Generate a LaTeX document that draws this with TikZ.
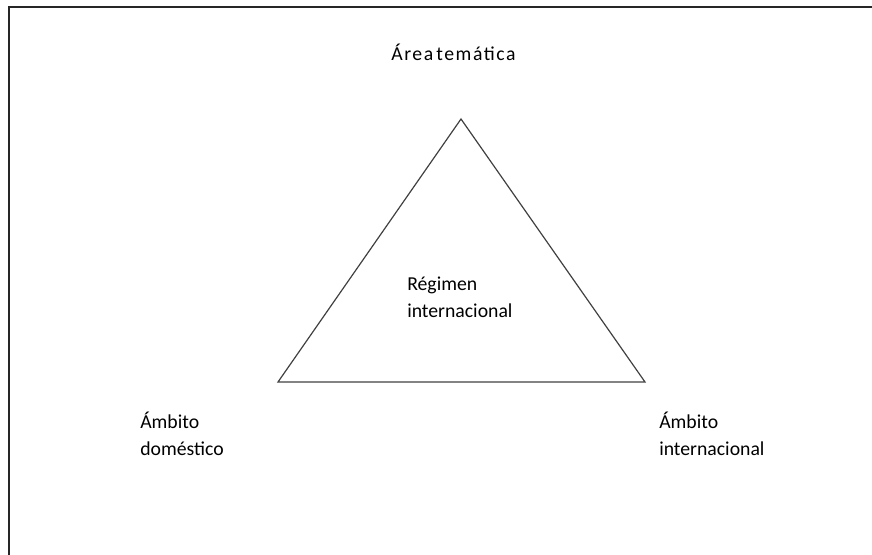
\documentclass[tikz,border=0pt]{standalone}
\usepackage{fontspec}
\setmainfont{Carlito}
\begin{document}
\begin{tikzpicture}[x=0.75pt,y=-0.75pt,
  lbl/.style={inner sep=0pt,align=left,anchor=west,font=\fontsize{14.8}{20.25}\selectfont},
  edge/.style={draw=black!75,line width=0.9pt},
  frame/.style={draw=black!85,line width=1.6pt}]
\useasboundingbox (0,0) rectangle (872,555);
\coordinate (fa) at (9,560);
\coordinate (fb) at (9,7);
\coordinate (fc) at (880,7);
\draw[frame] (fa) -- (fb) -- (fc);
\coordinate (top) at (461,119);
\coordinate (bl) at (278,382);
\coordinate (br) at (645,382);
\draw[edge,line join=miter] (top) -- (br) -- (bl) -- cycle;
\node[lbl] (area) at (391,52) {\addfontfeature{LetterSpace=8}Área\hspace{0.15em}temática};
\node[lbl] (reg) at (407,297) {Régimen\\internacional};
\node[lbl] (dom) at (140,434) {Ámbito\\doméstico};
\node[lbl] (int) at (659,434) {Ámbito\\internacional};
\end{tikzpicture}
\end{document}
